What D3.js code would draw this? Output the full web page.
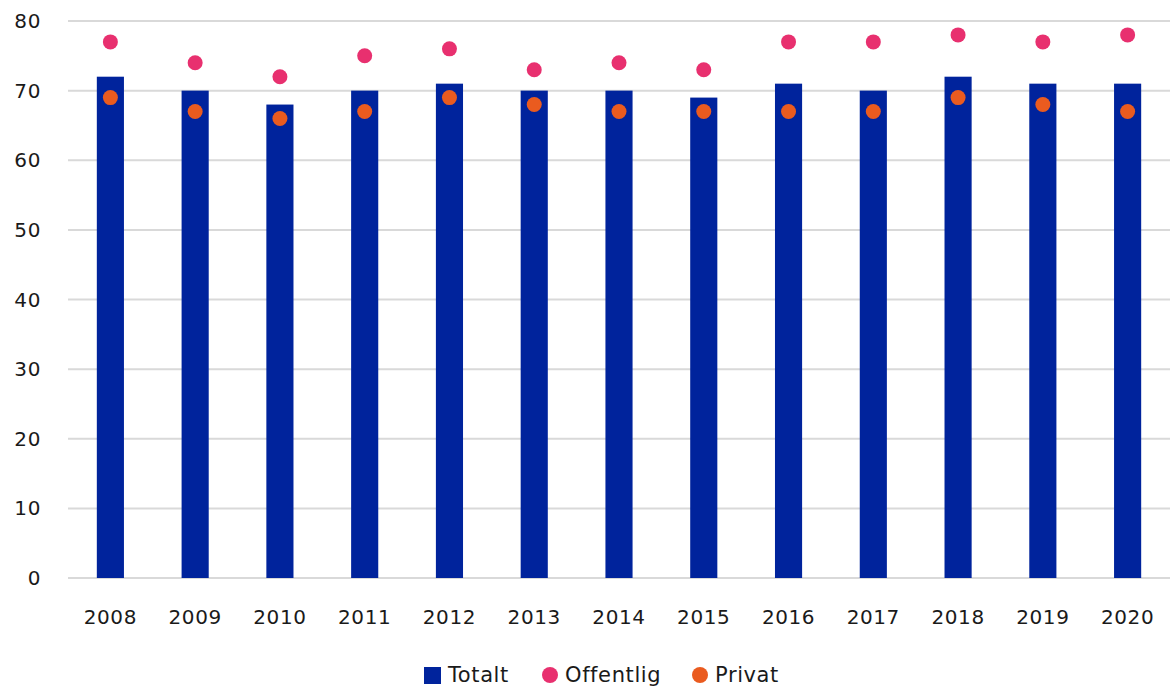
<!DOCTYPE html>
<html>
<head>
<meta charset="utf-8">
<script src="https://cdn.jsdelivr.net/npm/d3@7"></script>
<style>
  body { margin: 0; background: #fff; }
  text { font-family: "DejaVu Sans", sans-serif; fill: #1a1a1a; letter-spacing: 0.6px; }
</style>
</head>
<body>
<script>
var years = ["2008","2009","2010","2011","2012","2013","2014","2015","2016","2017","2018","2019","2020"];
var totalt = [72,70,68,70,71,70,70,69,71,70,72,71,71];
var offentlig = [77,74,72,75,76,73,74,73,77,77,78,77,78];
var privat = [69,67,66,67,69,68,67,67,67,67,69,68,67];
var yTicks = [0,10,20,30,40,50,60,70,80];

var W = 1170, H = 687;
var margin = {top: 21, right: 0, bottom: 109, left: 68};
var width = W - margin.left - margin.right,
    height = H - margin.top - margin.bottom;

var svg = d3.select("body").append("svg")
    .attr("width", W)
    .attr("height", H)
  .append("g")
    .attr("transform", "translate(" + margin.left + "," + margin.top + ")");

var x = d3.scaleBand().domain(years).range([0, width]).paddingInner(0.68).paddingOuter(0.34);
var y = d3.scaleLinear().domain([0, 80]).range([height, 0]);

// grid
svg.selectAll(".grid")
    .data(yTicks)
  .enter().append("line")
    .attr("x1", 0).attr("x2", width)
    .attr("y1", function(d) { return y(d); })
    .attr("y2", function(d) { return y(d); })
    .style("stroke", "#d9d9d9")
    .style("stroke-width", 2);

// y labels
svg.selectAll(".ylab")
    .data(yTicks)
  .enter().append("text")
    .attr("x", -27)
    .attr("y", function(d) { return y(d); })
    .attr("dy", "0.35em")
    .attr("text-anchor", "end")
    .style("font-size", "20px")
    .text(function(d) { return d; });

// bars
svg.selectAll(".bar")
    .data(totalt)
  .enter().append("rect")
    .attr("x", function(d, i) { return x(years[i]); })
    .attr("width", x.bandwidth())
    .attr("y", function(d) { return y(d); })
    .attr("height", function(d) { return height - y(d); })
    .style("fill", "#00239c");

function dots(data, color) {
  svg.selectAll(null)
      .data(data)
    .enter().append("circle")
      .attr("cx", function(d, i) { return x(years[i]) + x.bandwidth() / 2; })
      .attr("cy", function(d) { return y(d); })
      .attr("r", 7.5)
      .style("fill", color);
}
dots(offentlig, "#e8306f");
dots(privat, "#ea5b1f");

// x labels
svg.selectAll(".xlab")
    .data(years)
  .enter().append("text")
    .attr("x", function(d) { return x(d) + x.bandwidth() / 2; })
    .attr("y", height + 46)
    .attr("text-anchor", "middle")
    .style("font-size", "20px")
    .text(function(d) { return d; });

// legend
var legend = svg.append("g").attr("transform", "translate(" + (424 - margin.left) + "," + (H - margin.top - 12) + ")");
legend.append("rect").attr("x", 0).attr("y", -8).attr("width", 17).attr("height", 17).style("fill", "#00239c");
legend.append("text").attr("x", 24).attr("dy", "0.35em").style("font-size", "21px").text("Totalt");
legend.append("circle").attr("cx", 126).attr("cy", 0).attr("r", 8).style("fill", "#e8306f");
legend.append("text").attr("x", 141).attr("dy", "0.35em").style("font-size", "21px").text("Offentlig");
legend.append("circle").attr("cx", 276).attr("cy", 0).attr("r", 8).style("fill", "#ea5b1f");
legend.append("text").attr("x", 291).attr("dy", "0.35em").style("font-size", "21px").text("Privat");
</script>
</body>
</html>
